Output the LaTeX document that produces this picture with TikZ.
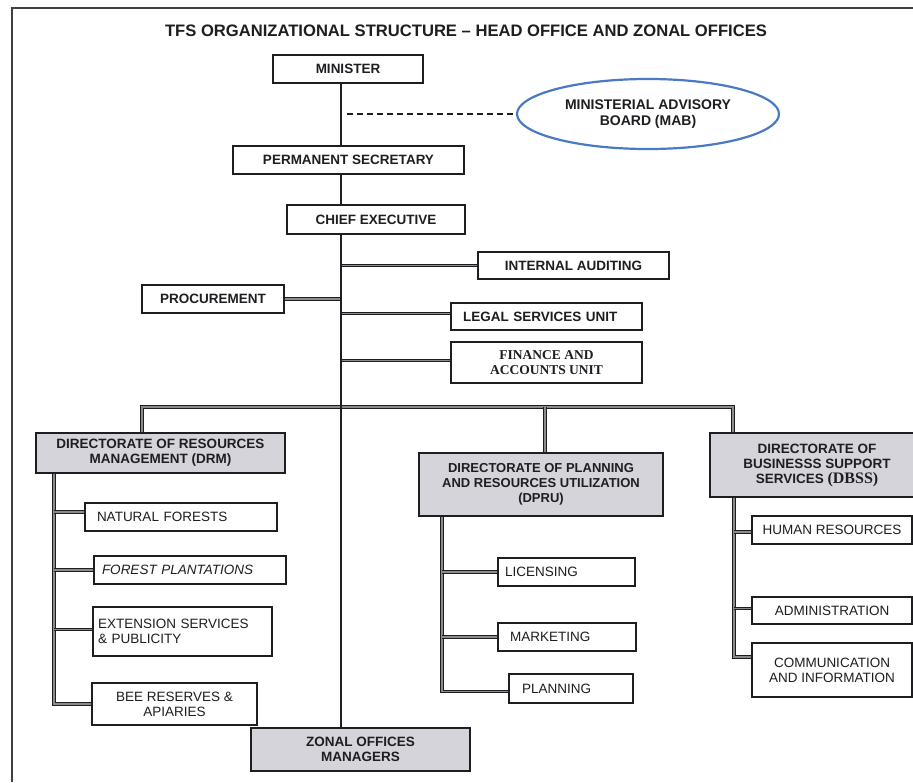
\documentclass[tikz,border=0pt]{standalone}
\usepackage{fontspec}
\setmainfont{Liberation Sans}
\newfontfamily\serifb{Liberation Serif}
\usetikzlibrary{shapes.geometric}
\definecolor{dirgray}{RGB}{212,212,218}
\definecolor{mabblue}{RGB}{74,122,196}
\definecolor{ink}{RGB}{30,30,34}
\begin{document}
\begin{tikzpicture}[x=1pt,y=-1pt,
  box/.style={draw=ink, line width=1.2pt, fill=white, inner sep=0pt, align=center,
    font=\fontsize{13.5}{15}\selectfont\bfseries, text=ink},
  sub/.style={box, font=\fontsize{13.5}{15}\selectfont},
  dir/.style={box, fill=dirgray},
  conn/.style={draw=ink, line width=0.9pt, double=black!45, double distance=1.3pt},
  mainline/.style={draw=ink, line width=2.4pt},
  dashline/.style={draw=ink, line width=2pt, dash pattern=on 6pt off 4pt},
  frame/.style={draw=ink!85, line width=1.8pt}
]
\useasboundingbox (0,0) rectangle (913,782);
\fill[white] (0,0) rectangle (913,782);
\draw[frame] (12,782) |- (913,8);

\node[font=\fontsize{16.6}{19}\selectfont\bfseries, text=ink] (title) at (466,31)
  {TFS ORGANIZATIONAL STRUCTURE -- HEAD OFFICE AND ZONAL OFFICES};

% top chain
\node[box, minimum width=150pt, minimum height=28pt] (minister) at (348,69) {MINISTER};
\node[box, minimum width=231pt, minimum height=28pt] (ps) at (348.5,160) {PERMANENT SECRETARY};
\node[box, minimum width=178pt, minimum height=29pt] (ce) at (376,219.5) {CHIEF EXECUTIVE};
\node[ellipse, draw=mabblue, line width=2.2pt, minimum width=262pt, minimum height=70pt,
  inner sep=0pt, align=center, font=\fontsize{14}{16}\selectfont\bfseries, text=ink] (mab) at (648,114)
  {MINISTERIAL ADVISORY\\BOARD (MAB)};

% units under chief executive
\node[box, minimum width=191pt, minimum height=27pt] (ia) at (573.5,265.5) {INTERNAL AUDITING};
\node[box, minimum width=142pt, minimum height=28pt] (proc) at (213,299) {PROCUREMENT};
\node[box, text width=167pt, inner xsep=12pt, align=left, minimum height=27pt] (legal) at (546.5,316.5) {LEGAL SERVICES UNIT};
\node[box, minimum width=191pt, minimum height=41pt, font=\serifb\fontsize{13.5}{15}\selectfont\bfseries] (fin) at (546.5,362.5) {FINANCE AND\\ACCOUNTS UNIT};

% directorates
\node[dir, minimum width=249pt, minimum height=40pt] (drm) at (160.5,453) {DIRECTORATE OF RESOURCES\\MANAGEMENT (DRM)};
\node[dir, minimum width=244pt, minimum height=63pt, font=\fontsize{13}{15}\selectfont\bfseries] (dpru) at (541,484.5) {DIRECTORATE OF PLANNING\\AND RESOURCES UTILIZATION\\(DPRU)};
\node[dir, minimum width=214pt, minimum height=64pt] (dbss) at (817,465) {DIRECTORATE OF\\BUSINESSS SUPPORT\\SERVICES {\serifb\fontsize{16}{15}\selectfont\bfseries(DBSS)}};

% DRM units
\node[sub, text width=168pt, inner xsep=12pt, align=left, minimum height=28pt] (nf) at (181,517) {NATURAL FORESTS};
\node[sub, text width=176pt, inner xsep=8pt, align=left, minimum height=28pt, font=\fontsize{13.5}{15}\selectfont\itshape] (fp) at (190,570) {FOREST PLANTATIONS};
\node[sub, text width=169pt, inner xsep=5pt, align=left, minimum height=49pt] (ext) at (182.5,631.5) {EXTENSION SERVICES\\\& PUBLICITY};
\node[sub, minimum width=165pt, minimum height=42pt] (bee) at (174.5,704) {BEE RESERVES \&\\APIARIES};

% DPRU units
\node[sub, text width=123pt, inner xsep=7pt, align=left, minimum height=28pt] (lic) at (566.5,572) {LICENSING};
\node[sub, text width=114pt, inner xsep=12pt, align=left, minimum height=28pt] (mkt) at (567,637) {MARKETING};
\node[sub, text width=98pt, inner xsep=13pt, align=left, minimum height=29pt] (plan) at (571,688.5) {PLANNING};

% DBSS units
\node[sub, minimum width=160pt, minimum height=28pt] (hr) at (832,530) {HUMAN RESOURCES};
\node[sub, minimum width=160pt, minimum height=27pt] (adm) at (832,610.5) {ADMINISTRATION};
\node[sub, minimum width=160pt, minimum height=54pt] (comm) at (832,670) {COMMUNICATION\\AND INFORMATION};

% zonal
\node[dir, minimum width=219pt, minimum height=43pt] (zonal) at (360.5,749.5) {ZONAL OFFICES\\MANAGERS};

% coordinates
\coordinate (mx) at (341,0);
\coordinate (dstart) at (347,114);
\coordinate (bl) at (142,407);
\coordinate (bm) at (545,407);
\coordinate (br) at (733,407);
\coordinate (drmbus) at (54,0);
\coordinate (dprubus) at (442,0);
\coordinate (dbssbus) at (734,0);

% connectors
\draw[conn] (ia.west) -- (ia.west -| mx);
\draw[conn] (proc.east) -- (proc.east -| mx);
\draw[conn] ([yshift=3pt]legal.west) -- ([yshift=3pt]legal.west -| mx);
\draw[conn] ([yshift=2pt]fin.west) -- ([yshift=2pt]fin.west -| mx);

\draw[conn] (drm.north -| bl) -- (bl) -- (br) -- (dbss.north -| br);
\draw[conn] (bm) -- (dpru.north -| bm);

\draw[conn] (drm.south -| drmbus) |- (bee.west);
\draw[conn] ([yshift=5pt]nf.west) -- ([yshift=5pt]nf.west -| drmbus);
\draw[conn] (fp.west) -- (fp.west -| drmbus);
\draw[conn] ([yshift=2pt]ext.west) -- ([yshift=2pt]ext.west -| drmbus);

\draw[conn] (dpru.south -| dprubus) |- ([yshift=-3pt]plan.west);
\draw[conn] (lic.west) -- (lic.west -| dprubus);
\draw[conn] (mkt.west) -- (mkt.west -| dprubus);

\draw[conn] (dbss.south -| dbssbus) |- ([yshift=13pt]comm.west);
\draw[conn] ([yshift=-2pt]hr.west) -- ([yshift=-2pt]hr.west -| dbssbus);
\draw[conn] ([yshift=2pt]adm.west) -- ([yshift=2pt]adm.west -| dbssbus);

\draw[mainline] (minister.south -| mx) -- (ps.north -| mx);
\draw[mainline] (ps.south -| mx) -- (ce.north -| mx);
\draw[mainline] (ce.south -| mx) -- (zonal.north -| mx);
\draw[dashline] (dstart) -- (mab.west);
\end{tikzpicture}
\end{document}
